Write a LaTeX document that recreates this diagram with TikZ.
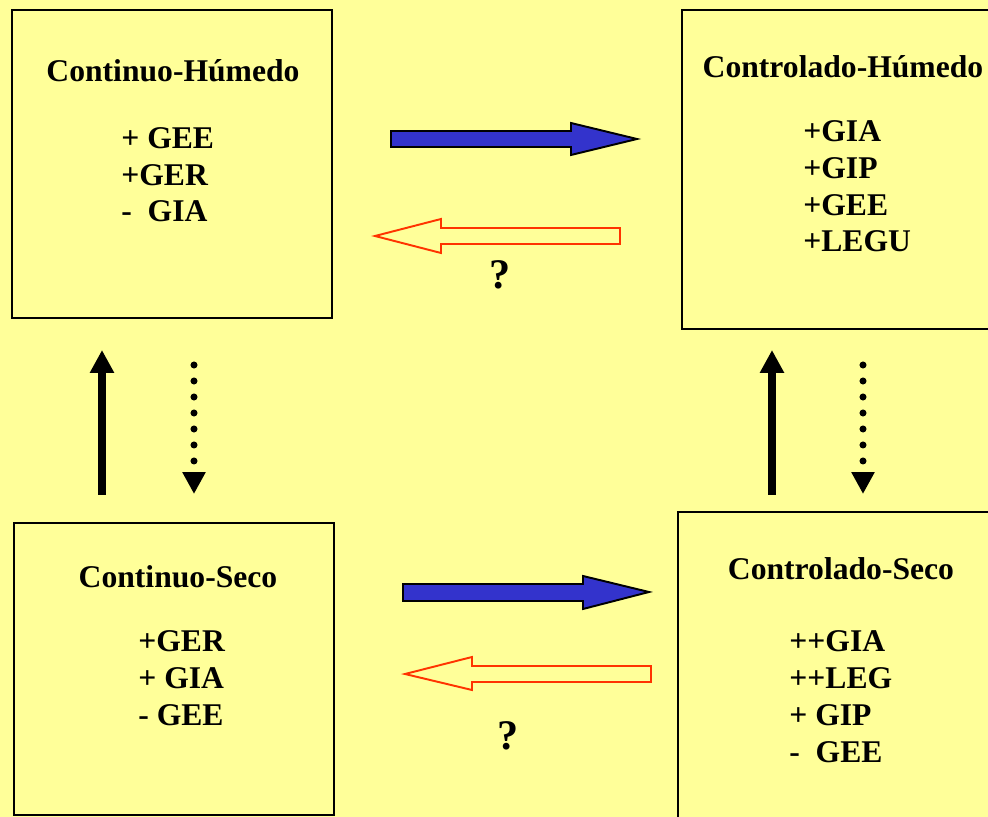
\documentclass[tikz,border=0pt]{standalone}
\usepackage{fontspec}
\setmainfont{Liberation Serif}
\usetikzlibrary{arrows.meta}

\definecolor{paper}{HTML}{FFFF99}
\definecolor{flowblue}{HTML}{3333CC}
\definecolor{backred}{HTML}{FF3300}

\tikzset{
  statebox/.style={draw=black, line width=1.1pt, fill=paper, anchor=north west, inner sep=0pt},
  boxtitle/.style={anchor=base, inner sep=0pt, font=\fontsize{18}{21}\selectfont\bfseries},
  boxlist/.style={anchor=base west, align=left, inner sep=0pt, font=\fontsize{18}{21}\selectfont\bfseries},
  qmark/.style={anchor=base, inner sep=0pt, font=\fontsize{24}{28}\selectfont\bfseries},
  bluearrow/.style={draw=black, line width=1.1pt, fill=flowblue, line join=miter},
  redarrow/.style={draw=backred, line width=1.1pt, fill=paper, line join=miter},
  uparrow/.style={line width=4pt, -{Triangle[length=0.46cm, width=0.46cm]}},
  downdots/.style={line width=4pt, line cap=round, dash pattern=on 0pt off 0.32cm, -{Triangle[length=0.44cm, width=0.44cm]}}
}

\begin{document}
\begin{tikzpicture}[x=0.02cm, y=-0.02cm]
  % page and background
  \useasboundingbox (0,0) rectangle (988,817);
  \clip (0,0) rectangle (988,817);
  \fill[paper] (0,0) rectangle (988,817);

  % the four boxes
  \node[statebox, minimum width=6.4cm, minimum height=6.16cm] (CHbox) at (11,9) {};
  \node[statebox, minimum width=6.4cm, minimum height=6.38cm] (KHbox) at (681,9) {};
  \node[statebox, minimum width=6.4cm, minimum height=5.84cm] (CSbox) at (13,522) {};
  \node[statebox, minimum width=6.4cm, minimum height=6.4cm] (KSbox) at (677,511) {};

  % titles
  \node[boxtitle] (CHtitle) at (173,82) {Continuo-Húmedo};
  \node[boxtitle] (KHtitle) at (843,78) {Controlado-Húmedo};
  \node[boxtitle] (CStitle) at (178,588) {Continuo-Seco};
  \node[boxtitle] (KStitle) at (841,580) {Controlado-Seco};

  % lists (anchored on the baseline of the last line)
  \node[boxlist] (CHlist) at (121,222) {+ GEE\\+GER\\-\ \ GIA};
  \node[boxlist] (KHlist) at (803,252) {+GIA\\+GIP\\+GEE\\+LEGU};
  \node[boxlist] (CSlist) at (138,725) {+GER\\+ GIA\\- GEE};
  \node[boxlist] (KSlist) at (789,762) {++GIA\\++LEG\\+ GIP\\-\ \ GEE};

  % horizontal block arrows, top
  \draw[bluearrow] (391,131) -- (571,131) -- (571,123) -- (637,139) -- (571,155) -- (571,147) -- (391,147) -- cycle;
  \draw[redarrow] (620,228) -- (441,228) -- (441,219) -- (375,236) -- (441,253) -- (441,244) -- (620,244) -- cycle;
  \node[qmark] (topq) at (500,289) {?};

  % horizontal block arrows, bottom
  \draw[bluearrow] (403,584) -- (583,584) -- (583,576) -- (649,592) -- (583,609) -- (583,601) -- (403,601) -- cycle;
  \draw[redarrow] (651,666) -- (472,666) -- (472,657) -- (405,674) -- (472,690) -- (472,682) -- (651,682) -- cycle;
  \node[qmark] (botq) at (508,749) {?};

  % vertical arrows, left
  \coordinate (CSup) at (102,495);
  \coordinate (CHup) at (102,350);
  \coordinate (CHdown) at (194,365);
  \coordinate (CSdown) at (194,494);
  \draw[uparrow] (CSup) -- (CHup);
  \draw[downdots] (CHdown) -- (CSdown);

  % vertical arrows, right
  \coordinate (KSup) at (772,495);
  \coordinate (KHup) at (772,350);
  \coordinate (KHdown) at (863,365);
  \coordinate (KSdown) at (863,494);
  \draw[uparrow] (KSup) -- (KHup);
  \draw[downdots] (KHdown) -- (KSdown);
\end{tikzpicture}
\end{document}
